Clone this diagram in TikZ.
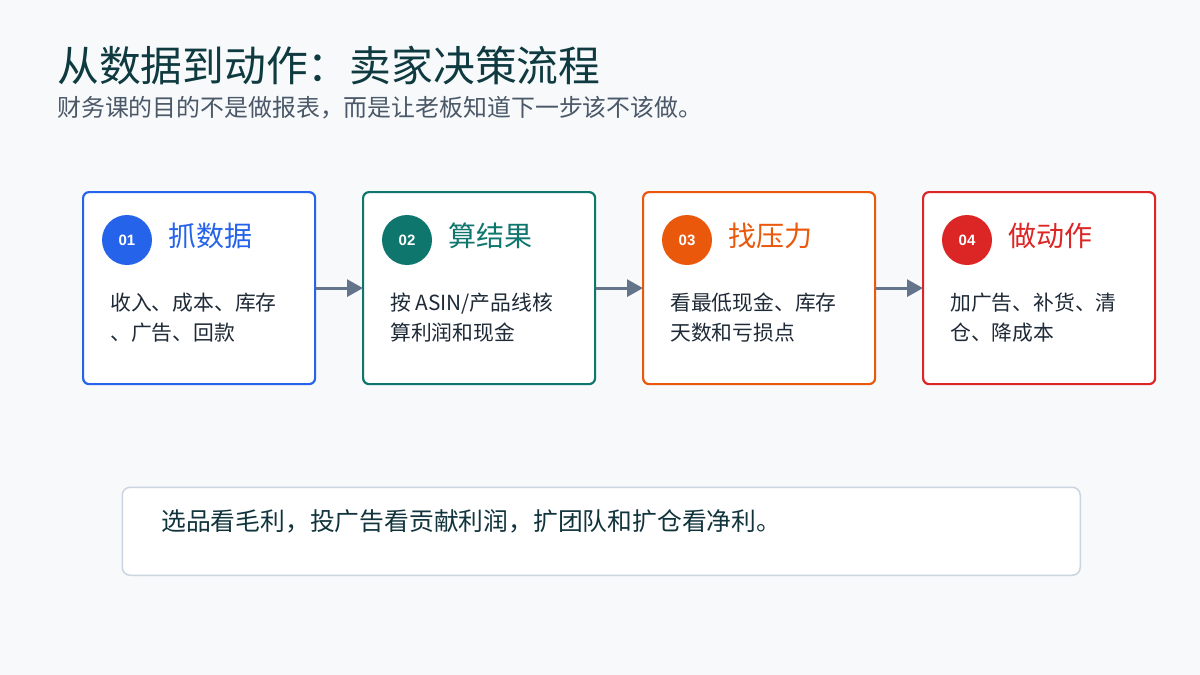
\documentclass[tikz,border=0pt]{standalone}
\usepackage{fontspec}
\setmainfont{Noto Sans CJK SC}
\newfontfamily\numfont{Liberation Sans}
\usetikzlibrary{arrows.meta}
\definecolor{bg}{HTML}{F7F9FB}
\definecolor{titlec}{HTML}{0E3A40}
\definecolor{subc}{HTML}{4A5868}
\definecolor{bodyc}{HTML}{1F2A37}
\definecolor{notec}{HTML}{11343C}
\definecolor{notebd}{HTML}{CBD5E1}
\definecolor{arrc}{HTML}{64748B}
\definecolor{cblue}{HTML}{2563EB}
\definecolor{cteal}{HTML}{0F766E}
\definecolor{corange}{HTML}{EA580C}
\definecolor{cred}{HTML}{DC2626}
\tikzset{
  card/.style={draw=#1, line width=2.2pt, rounded corners=6pt, fill=white,
    minimum width=232pt, minimum height=192pt, inner sep=0pt, anchor=north west},
  badge/.style={circle, fill=#1, minimum size=50pt, inner sep=0pt, text=white,
    font=\numfont\bfseries\fontsize{15}{15}\selectfont},
  cardtitle/.style={anchor=base west, inner sep=0pt, text=#1, font=\fontsize{28}{32}\selectfont},
  bodytext/.style={anchor=base west, inner sep=0pt, text=bodyc, font=\fontsize{20.8}{26}\selectfont},
  arr/.style={draw=arrc, line width=3pt, -{Triangle[length=16pt,width=17pt]}, shorten >=-1pt}
}
\begin{document}
\begin{tikzpicture}[x=1pt,y=-1pt]
\fill[bg] (0,0) rectangle (1200,675);
\useasboundingbox (0,0) rectangle (1200,675);

\node[anchor=base west, inner sep=0pt, text=titlec, font=\fontsize{41.8}{50}\selectfont] (title) at (57,81) {从数据到动作：卖家决策流程};
\node[anchor=base west, inner sep=0pt, text=subc, font=\fontsize{23.9}{28}\selectfont] (subtitle) at (57,116) {财务课的目的不是做报表，而是让老板知道下一步该不该做。};

\foreach \i/\x/\c/\t/\la/\lb in {
  1/82/cblue/抓数据/收入、成本、库存/、广告、回款,
  2/362/cteal/算结果/{按 ASIN/产品线核}/算利润和现金,
  3/642/corange/找压力/看最低现金、库存/天数和亏损点,
  4/922/cred/做动作/加广告、补货、清/仓、降成本}{
  \node[card=\c] (card\i) at (\x,191) {};
  \node[badge=\c] (badge\i) at (\x+45,240) {0\i};
  \node[cardtitle=\c] (ctitle\i) at (\x+86,246.5) {\t};
  \node[bodytext] (bodya\i) at (\x+28,310.5) {\la};
  \node[bodytext] (bodyb\i) at (\x+28,340.5) {\lb};
}

\draw[arr] (card1.east) -- (card2.west);
\draw[arr] (card2.east) -- (card3.west);
\draw[arr] (card3.east) -- (card4.west);

\node[draw=notebd, line width=1.5pt, fill=white, rounded corners=8pt,
  minimum width=958pt, minimum height=88pt, inner sep=0pt, anchor=north west] (note) at (121.5,486.5) {};
\node[anchor=base west, inner sep=0pt, text=notec, font=\fontsize{24.8}{30}\selectfont] (notetext) at (161,530) {选品看毛利，投广告看贡献利润，扩团队和扩仓看净利。};
\end{tikzpicture}
\end{document}
